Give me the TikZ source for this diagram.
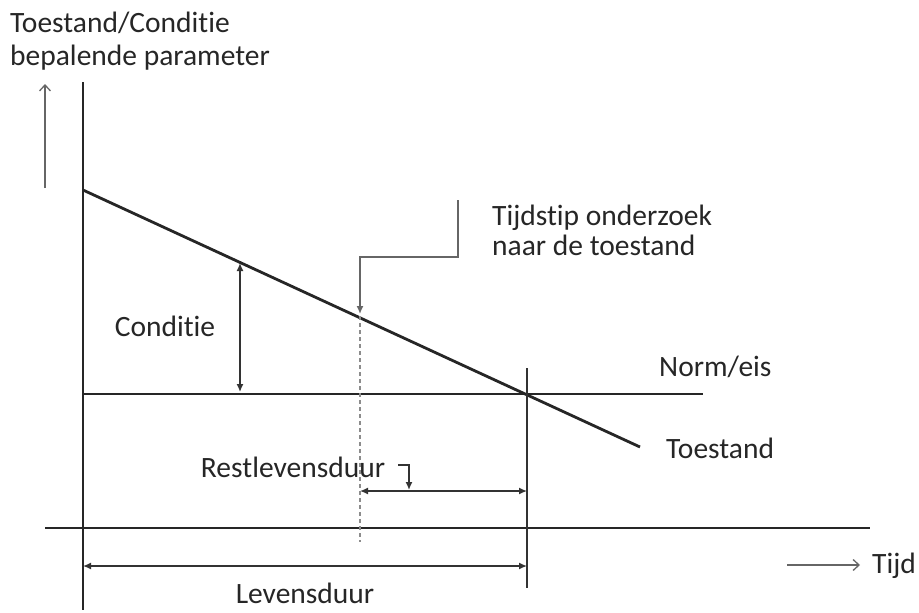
\documentclass[tikz,border=0pt]{standalone}
\usepackage{fontspec}
\setmainfont[Ligatures=NoCommon]{Carlito}
\usetikzlibrary{arrows.meta}
\begin{document}
\begin{tikzpicture}[x=1pt,y=-1pt,
  thick line/.style={line width=2.8pt,black!85},
  thin line/.style={line width=1.5pt,black!80},
  gray line/.style={line width=1.5pt,black!60},
  open tip/.style={-{Straight Barb[length=6pt,width=11pt,line width=1.3pt]}},
  dim/.style={line width=1.4pt,black!80,{Latex[length=8pt,width=7pt]}-{Latex[length=8pt,width=7pt]}},
  tip/.style={-{Latex[length=8pt,width=7pt]}},
  lbl/.style={font=\fontsize{29.5}{33}\selectfont,text=black!85,inner sep=0pt}]
\useasboundingbox (0,0) rectangle (919,613);
% coordinates
\coordinate (axT) at (83,82);
\coordinate (axB) at (83,610);
\coordinate (dS) at (83,190);
\coordinate (dE) at (640,447);
\coordinate (nS) at (83,394);
\coordinate (nE) at (703,394);
\coordinate (vT) at (527,368);
\coordinate (vB) at (527,588);
\coordinate (tS) at (45,528);
\coordinate (tE) at (870,528);
% axes
\draw[thick line] (axT) -- (axB);
\draw[thick line] (tS) -- (tE);
\draw[thick line] (dS) -- (dE);
\draw[thick line] (nS) -- (nE);
\draw[thin line] (vT) -- (vB);
% y-axis label arrow
\coordinate (uaB) at (45,188);
\coordinate (uaT) at (45,84);
\draw[gray line,open tip] (uaB) -- (uaT);
\node[lbl,anchor=west,align=left] (title) at (10,41) {Toestand/Conditie\\bepalende parameter};
% Conditie
\coordinate (cT) at (240,263);
\coordinate (cB) at (240,392);
\draw[dim] (cT) -- (cB);
\node[lbl] (cond) at (165,326) {Conditie};
% dashed inspection line
\coordinate (dT) at (360,316);
\coordinate (dB) at (360,542);
\draw[black!45,line width=1.7pt,dash pattern=on 4pt off 3pt] (dT) -- (dB);
% callout
\coordinate (c1) at (458,200);
\coordinate (c2) at (458,257);
\coordinate (c3) at (360,257);
\coordinate (c4) at (360,314);
\draw[gray line,tip] (c1) -- (c2) -- (c3) -- (c4);
\node[lbl,anchor=west,align=left,font=\fontsize{29.5}{30}\selectfont] (tijdstip) at (492,230) {Tijdstip onderzoek\\naar de toestand};
% Restlevensduur
\coordinate (rL) at (360,491);
\coordinate (rR) at (527,491);
\draw[dim] (rL) -- (rR);
\node[lbl] (rest) at (293,467) {Restlevensduur};
\coordinate (h1) at (398,465);
\coordinate (h2) at (409,465);
\coordinate (h3) at (409,490);
\draw[thin line,tip] (h1) -- (h2) -- (h3);
% Levensduur
\coordinate (lL) at (83,566);
\coordinate (lR) at (527,566);
\draw[dim] (lL) -- (lR);
\node[lbl] (lev) at (305,593) {Levensduur};
% labels right
\node[lbl,anchor=west] (norm) at (659,367) {Norm/eis};
\node[lbl,anchor=west] (toe) at (666,448) {Toestand};
% Tijd
\coordinate (tA) at (787,565);
\coordinate (tB) at (860,565);
\draw[gray line,open tip] (tA) -- (tB);
\node[lbl,anchor=west] (tijd) at (872,566) {Tijd};
\end{tikzpicture}
\end{document}
